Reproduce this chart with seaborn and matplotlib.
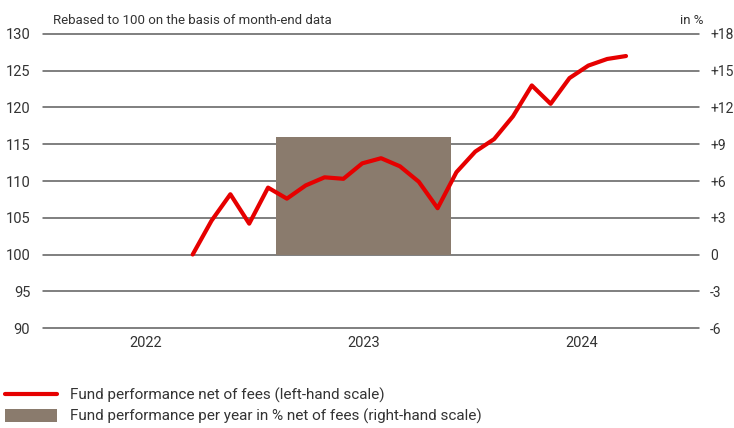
import numpy as np
import pandas as pd
import matplotlib
matplotlib.use("Agg")
import matplotlib.pyplot as plt
import seaborn as sns
from matplotlib.lines import Line2D
from matplotlib.patches import Patch

# fund index, rebased to 100, month-end values
months = pd.date_range("2022-04-30", periods=24, freq="ME")
fund_index = [100.0, 104.6, 108.2, 104.2, 109.1, 107.6, 109.4, 110.5, 110.3, 112.4,
              113.1, 112.0, 109.9, 106.3, 111.2, 114.0, 115.7, 118.8, 123.0, 120.5,
              124.0, 125.7, 126.6, 127.0]

# yearly performance in % (right-hand scale)
years = ["2022", "2023", "2024"]
yearly_perf = [np.nan, 9.6, np.nan]

left_ticks = [90, 95, 100, 105, 110, 115, 120, 125, 130]
right_ticks = [-6, -3, 0, 3, 6, 9, 12, 15, 18]
right_labels = ["-6", "-3", "0", "+3", "+6", "+9", "+12", "+15", "+18"]

RED = "#e60000"
TAUPE = "#8a7b6d"
GRID = "#5c5c5c"
TXT = "#333333"

sns.set_theme(style="white")
plt.rcParams["font.family"] = ["Roboto", "DejaVu Sans"]

fig = plt.figure(figsize=(7.34, 4.28), dpi=100)
pos = [0.0582, 0.2336, 0.894, 0.687]

# bars on the right-hand scale
ax_bar = fig.add_axes(pos)
bar_df = pd.DataFrame({"year": years, "perf": yearly_perf})
sns.barplot(data=bar_df, x="year", y="perf", order=years, color=TAUPE,
            saturation=1, width=0.8, linewidth=0, ax=ax_bar, zorder=2)
ax_bar.set_xlim(-0.472, 2.538)
ax_bar.set_ylim(-6, 18)
ax_bar.yaxis.tick_right()
ax_bar.set_yticks(right_ticks)
ax_bar.set_yticklabels(right_labels)
ax_bar.set_xlabel("")
ax_bar.set_ylabel("")
ax_bar.tick_params(axis="y", length=0, pad=8, labelsize=10, labelcolor=TXT)
ax_bar.tick_params(axis="x", length=0, pad=6, labelsize=10.5, labelcolor=TXT)
ax_bar.set_axisbelow(True)
ax_bar.yaxis.grid(True, color=GRID, linewidth=1.1)
for gl in ax_bar.get_ygridlines():
    gl.set_clip_on(False)
for s in ax_bar.spines.values():
    s.set_visible(False)

# line on the left-hand scale
ax_line = fig.add_axes(pos)
ax_line.patch.set_alpha(0)
line_df = pd.DataFrame({"m": np.arange(len(months)), "idx": fund_index})
sns.lineplot(data=line_df, x="m", y="idx", color=RED, linewidth=3, ax=ax_line)
ax_line.set_xlim(-7.96, 26.87)
ax_line.set_ylim(90, 130)
ax_line.set_yticks(left_ticks)
ax_line.set_xticks([])
ax_line.set_xlabel("")
ax_line.set_ylabel("")
ax_line.tick_params(axis="y", length=0, pad=9, labelsize=10.5, labelcolor=TXT)
for s in ax_line.spines.values():
    s.set_visible(False)

fig.text(53 / 734, 1 - 20 / 428, "Rebased to 100 on the basis of month-end data",
         fontsize=9.5, color=TXT, va="center", ha="left")
fig.text(703 / 734, 1 - 21 / 428, "in %", fontsize=9.5, color=TXT, va="center", ha="right")

handles = [Line2D([], [], color=RED, linewidth=3),
           Patch(facecolor=TAUPE, edgecolor="none")]
labels = ["Fund performance net of fees (left-hand scale)",
          "Fund performance per year in % net of fees (right-hand scale)"]
fig.legend(handles, labels, loc="upper left", bbox_to_anchor=(0.0, 1 - 383 / 428),
           frameon=False, fontsize=11, handlelength=3.4, handleheight=0.9,
           handletextpad=0.85, labelspacing=0.4, labelcolor=TXT, borderaxespad=0,
           borderpad=0.3)

fig.savefig("out.png", dpi=100)
